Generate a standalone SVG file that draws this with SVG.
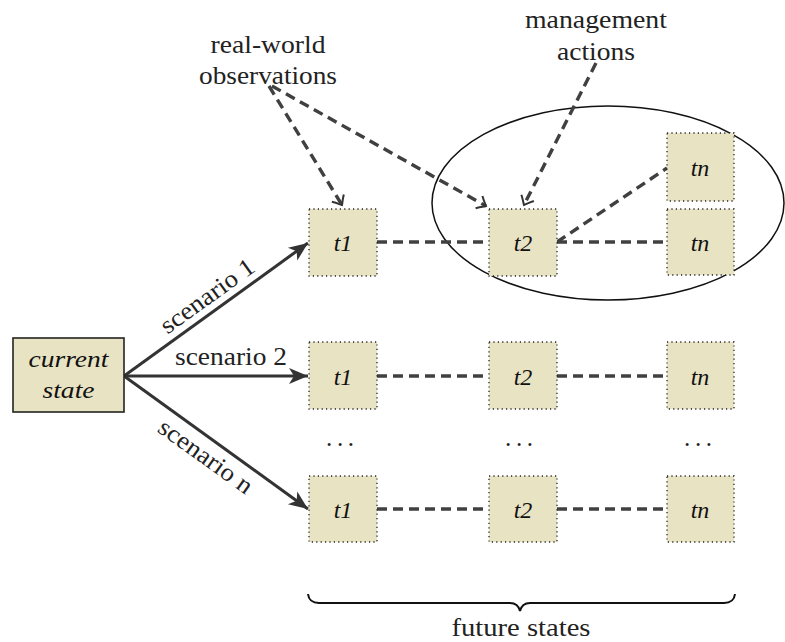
<svg xmlns="http://www.w3.org/2000/svg" width="785" height="642" viewBox="0 0 785 642">
<style>
.lbl{font-family:'Liberation Serif','DejaVu Serif',serif;font-size:25px;fill:#222;text-anchor:middle}
.it{font-family:'Liberation Serif','DejaVu Serif',serif;font-size:24px;font-style:italic;fill:#111;text-anchor:middle}
.box{fill:#e8e3c3;stroke:#222;stroke-width:1.3;stroke-dasharray:1.2 3.2}
.cur{fill:#e8e3c3;stroke:#222;stroke-width:1.6}
.dash{stroke:#404040;stroke-width:3.4;stroke-dasharray:10 6;fill:none}
.arr{stroke:#333;stroke-width:3;fill:none}
</style>
<defs>
<marker id="stealth" viewBox="-20 -10 22 20" refX="0" refY="0" markerWidth="22" markerHeight="20" markerUnits="userSpaceOnUse" orient="auto">
<path d="M0,0 L-19,-8 L-14,0 L-19,8 Z" fill="#333"/>
</marker>
<marker id="to" viewBox="-10 -10 12 20" refX="0" refY="0" markerWidth="12" markerHeight="20" markerUnits="userSpaceOnUse" orient="auto">
<path d="M-8,-7 C-4,-3 -1,-1 0,0 C-1,1 -4,3 -8,7" fill="none" stroke="#333" stroke-width="2"/>
</marker>
</defs>
<g id="group-ellipse">
<ellipse cx="608" cy="203" rx="176" ry="97" fill="none" stroke="#111" stroke-width="1.5"/>
</g>
<g id="connectors">
<line class="arr" x1="124" y1="376" x2="308" y2="243" marker-end="url(#stealth)"/>
<line class="arr" x1="124" y1="376" x2="308" y2="376" marker-end="url(#stealth)"/>
<line class="arr" x1="124" y1="376" x2="308" y2="509" marker-end="url(#stealth)"/>
<line class="dash" x1="377" y1="242" x2="489" y2="242"/>
<line class="dash" x1="557" y1="242" x2="667" y2="242"/>
<line class="dash" x1="557" y1="242" x2="667" y2="168"/>
<line class="dash" x1="377" y1="376" x2="489" y2="376"/>
<line class="dash" x1="557" y1="376" x2="667" y2="376"/>
<line class="dash" x1="377" y1="509" x2="489" y2="509"/>
<line class="dash" x1="557" y1="509" x2="667" y2="509"/>
<line class="dash" x1="269" y1="86" x2="342" y2="205" marker-end="url(#to)"/>
<line class="dash" x1="272" y1="86" x2="486" y2="206" marker-end="url(#to)"/>
<line class="dash" x1="596" y1="63" x2="524" y2="205" marker-end="url(#to)"/>
</g>
<g id="labels">
<text class="lbl" transform="translate(212,302.5) rotate(-35.9)" textLength="110" lengthAdjust="spacingAndGlyphs">scenario 1</text>
<text class="lbl" x="231" y="365" textLength="112" lengthAdjust="spacingAndGlyphs">scenario 2</text>
<text class="lbl" transform="translate(201,463) rotate(35.7)" textLength="110" lengthAdjust="spacingAndGlyphs">scenario n</text>
<text class="lbl" x="268" y="53" textLength="115" lengthAdjust="spacingAndGlyphs">real-world</text>
<text class="lbl" x="268" y="84" textLength="138" lengthAdjust="spacingAndGlyphs">observations</text>
<text class="lbl" x="596" y="28" textLength="142" lengthAdjust="spacingAndGlyphs">management</text>
<text class="lbl" x="596" y="60" textLength="78" lengthAdjust="spacingAndGlyphs">actions</text>
<text class="lbl" x="521" y="636" textLength="139" lengthAdjust="spacingAndGlyphs">future states</text>
</g>
<g id="node-current">
<rect class="cur" x="13" y="338" width="111" height="74"/>
<text class="it" x="68.5" y="367" textLength="80" lengthAdjust="spacingAndGlyphs">current</text>
<text class="it" x="68.5" y="398" textLength="52" lengthAdjust="spacingAndGlyphs">state</text>
</g>
<g id="node-r1-t1"><rect class="box" x="309" y="209" width="68" height="67"/><text class="it" x="343" y="251">t1</text></g>
<g id="node-r1-t2"><rect class="box" x="489" y="209" width="68" height="67"/><text class="it" x="523" y="251">t2</text></g>
<g id="node-r1-tn"><rect class="box" x="667" y="209" width="67" height="66"/><text class="it" x="700" y="251">tn</text></g>
<g id="node-r1-tn-alt"><rect class="box" x="667" y="133" width="67" height="68"/><text class="it" x="700" y="176">tn</text></g>
<g id="node-r2-t1"><rect class="box" x="309" y="342" width="68" height="67"/><text class="it" x="343" y="385">t1</text></g>
<g id="node-r2-t2"><rect class="box" x="489" y="342" width="68" height="67"/><text class="it" x="523" y="385">t2</text></g>
<g id="node-r2-tn"><rect class="box" x="667" y="342" width="67" height="67"/><text class="it" x="700" y="385">tn</text></g>
<g id="node-r3-t1"><rect class="box" x="309" y="476" width="68" height="66"/><text class="it" x="343" y="518">t1</text></g>
<g id="node-r3-t2"><rect class="box" x="489" y="476" width="68" height="66"/><text class="it" x="523" y="518">t2</text></g>
<g id="node-r3-tn"><rect class="box" x="667" y="476" width="67" height="66"/><text class="it" x="700" y="518">tn</text></g>
<g id="dots">
<text class="lbl" x="340" y="446" textLength="28" lengthAdjust="spacing">...</text>
<text class="lbl" x="519" y="446" textLength="28" lengthAdjust="spacing">...</text>
<text class="lbl" x="698" y="446" textLength="28" lengthAdjust="spacing">...</text>
</g>
<g id="brace">
<path d="M308,594 Q309,603 319,603 L510,603 Q518,603 520,611 Q522,603 530,603 L724,603 Q734,603 735,594" fill="none" stroke="#111" stroke-width="2"/>
</g>
</svg>
